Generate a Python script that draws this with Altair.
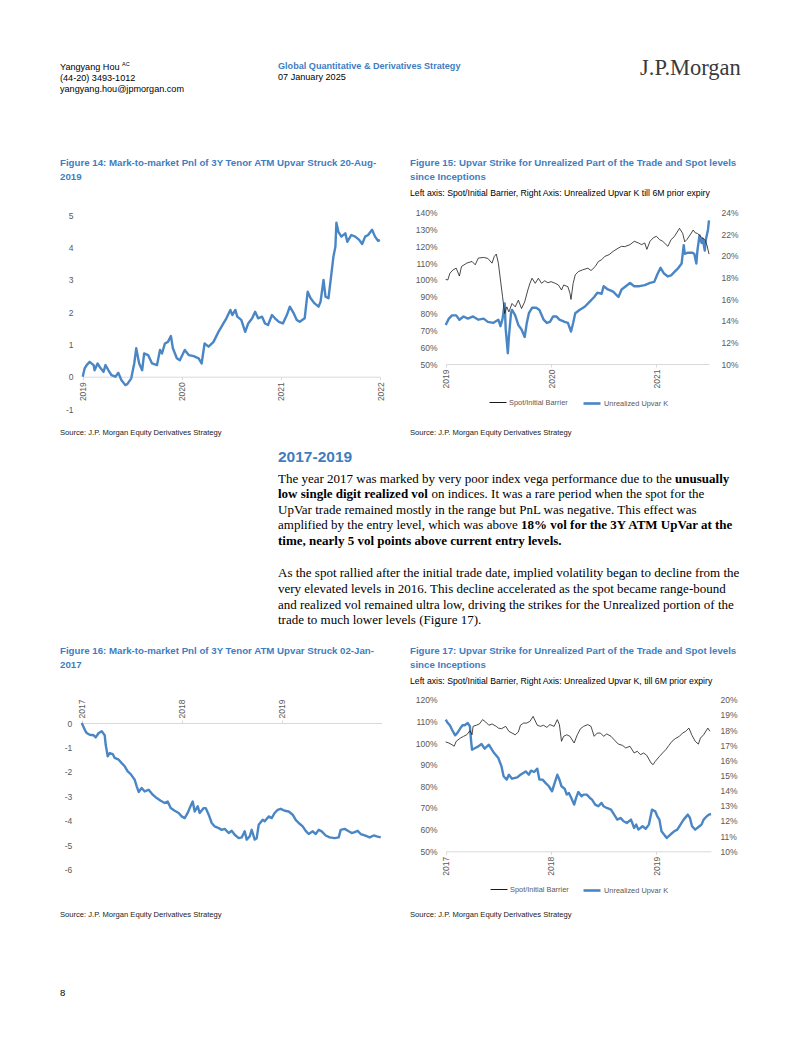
import altair as alt
import pandas as pd

# ---------------- data ----------------
f14_year = [2019.00, 2019.02, 2019.04, 2019.07, 2019.11, 2019.12, 2019.15, 2019.17, 2019.21, 2019.23,
            2019.26, 2019.29, 2019.33, 2019.36, 2019.39, 2019.43, 2019.45, 2019.49, 2019.52, 2019.54,
            2019.57, 2019.60, 2019.62, 2019.66, 2019.70, 2019.75, 2019.78, 2019.80, 2019.83, 2019.86,
            2019.89, 2019.91, 2019.95, 2019.98, 2020.03, 2020.07, 2020.12, 2020.17, 2020.20, 2020.23,
            2020.27, 2020.32, 2020.37, 2020.42, 2020.45, 2020.49, 2020.51, 2020.54, 2020.56, 2020.60,
            2020.64, 2020.67, 2020.71, 2020.74, 2020.77, 2020.81, 2020.84, 2020.87, 2020.91, 2020.94,
            2020.98, 2021.02, 2021.06, 2021.09, 2021.13, 2021.16, 2021.19, 2021.24, 2021.27, 2021.30,
            2021.34, 2021.38, 2021.40, 2021.43, 2021.45, 2021.48, 2021.51, 2021.53, 2021.55, 2021.56,
            2021.58, 2021.61, 2021.65, 2021.67, 2021.71, 2021.75, 2021.79, 2021.82, 2021.85, 2021.88,
            2021.92, 2021.95, 2021.98, 2022.00]
f14_pnl = [0.00, 0.26, 0.36, 0.46, 0.36, 0.20, 0.41, 0.31, 0.15, 0.36,
           0.20, 0.05, 0.00, 0.12, -0.10, -0.26, -0.23, -0.05, 0.41, 0.88,
           0.41, 0.20, 0.72, 0.67, 0.41, 0.36, 0.83, 0.72, 1.03, 1.08,
           1.26, 0.88, 0.57, 0.51, 0.83, 0.67, 0.64, 0.57, 0.41, 1.03,
           0.93, 1.08, 1.39, 1.65, 1.81, 2.07, 1.91, 2.07, 1.86, 1.76,
           1.39, 1.65, 1.81, 2.01, 1.81, 1.86, 1.65, 1.60, 1.91, 1.81,
           1.70, 1.65, 1.91, 2.17, 1.96, 1.76, 1.70, 1.81, 2.63, 2.43,
           2.27, 2.17, 2.32, 3.00, 2.48, 2.43, 3.20, 3.72, 4.03, 4.77,
           4.49, 4.34, 4.44, 4.18, 4.39, 4.34, 4.24, 4.11, 4.34, 4.39,
           4.55, 4.34, 4.21, 4.23]

f15_spot_year = [2019.00, 2019.02, 2019.04, 2019.07, 2019.10, 2019.13, 2019.15, 2019.20, 2019.25, 2019.28,
                 2019.31, 2019.36, 2019.40, 2019.44, 2019.46, 2019.48, 2019.50, 2019.52, 2019.54, 2019.56,
                 2019.58, 2019.60, 2019.63, 2019.66, 2019.69, 2019.72, 2019.75, 2019.78, 2019.80, 2019.82,
                 2019.85, 2019.88, 2019.91, 2019.94, 2019.97, 2020.00, 2020.04, 2020.07, 2020.10, 2020.12,
                 2020.16, 2020.18, 2020.19, 2020.21, 2020.23, 2020.26, 2020.30, 2020.35, 2020.38, 2020.42,
                 2020.45, 2020.48, 2020.51, 2020.55, 2020.59, 2020.64, 2020.67, 2020.70, 2020.75, 2020.79,
                 2020.83, 2020.86, 2020.89, 2020.91, 2020.94, 2020.97, 2021.00, 2021.03, 2021.06, 2021.11,
                 2021.14, 2021.17, 2021.22, 2021.25, 2021.27, 2021.29, 2021.32, 2021.35, 2021.37, 2021.39,
                 2021.43, 2021.46, 2021.48, 2021.50]
f15_spot = [100.3, 100.0, 104.0, 106.0, 107.0, 102.3, 108.0, 110.0, 111.0, 109.0,
            113.0, 113.4, 112.8, 110.0, 113.8, 115.4, 110.0, 100.0, 90.0, 80.0,
            84.0, 81.0, 86.0, 84.0, 88.0, 83.0, 87.0, 94.0, 98.0, 101.0,
            98.0, 101.0, 98.0, 99.5, 98.3, 99.0, 98.0, 97.0, 94.0, 97.0,
            96.0, 92.0, 88.4, 98.0, 103.0, 105.0, 106.0, 107.0, 105.6, 108.0,
            111.0, 112.0, 114.0, 115.0, 117.0, 119.0, 120.0, 119.8, 121.0, 123.0,
            122.0, 121.0, 122.0, 118.2, 123.0, 125.0, 126.0, 124.0, 123.0, 120.0,
            124.0, 125.7, 130.7, 127.7, 122.7, 124.0, 126.7, 129.7, 128.0, 127.7,
            125.3, 124.0, 120.8, 115.4]
f15_k_year = [2019.00, 2019.03, 2019.06, 2019.10, 2019.13, 2019.17, 2019.21, 2019.26, 2019.31, 2019.36,
              2019.40, 2019.45, 2019.50, 2019.52, 2019.54, 2019.56, 2019.57, 2019.59, 2019.60, 2019.62,
              2019.63, 2019.66, 2019.69, 2019.72, 2019.75, 2019.77, 2019.79, 2019.82, 2019.86, 2019.89,
              2019.93, 2019.96, 2019.99, 2020.02, 2020.05, 2020.08, 2020.13, 2020.16, 2020.19, 2020.21,
              2020.23, 2020.27, 2020.32, 2020.37, 2020.41, 2020.44, 2020.48, 2020.50, 2020.54, 2020.59,
              2020.64, 2020.67, 2020.71, 2020.75, 2020.79, 2020.84, 2020.89, 2020.94, 2020.98, 2021.01,
              2021.04, 2021.07, 2021.11, 2021.14, 2021.17, 2021.21, 2021.24, 2021.26, 2021.27, 2021.30,
              2021.34, 2021.36, 2021.38, 2021.39, 2021.41, 2021.43, 2021.44, 2021.46, 2021.47, 2021.49,
              2021.50]
f15_k = [13.6, 14.2, 14.5, 14.5, 14.1, 14.4, 14.2, 14.4, 14.1, 14.2,
         13.9, 13.8, 14.1, 13.5, 14.2, 15.6, 13.2, 11.0, 12.5, 14.7,
         15.0, 14.5, 13.6, 13.2, 12.5, 13.8, 14.7, 15.2, 15.2, 15.0,
         14.1, 13.8, 13.9, 14.4, 14.4, 14.1, 13.9, 13.8, 13.0, 13.8,
         14.7, 15.0, 15.3, 15.8, 16.2, 16.6, 16.5, 17.2, 16.9, 16.7,
         16.2, 16.9, 17.2, 17.5, 17.2, 17.2, 17.3, 17.5, 17.6, 18.3,
         18.9, 18.4, 18.1, 18.2, 18.5, 18.9, 19.3, 21.0, 20.2, 20.3,
         20.3, 20.2, 19.3, 20.5, 21.9, 21.2, 21.6, 20.5, 21.5, 22.4,
         23.3]

f16_year = [2017.00, 2017.03, 2017.05, 2017.08, 2017.12, 2017.14, 2017.17, 2017.20, 2017.23, 2017.24,
            2017.26, 2017.28, 2017.31, 2017.33, 2017.37, 2017.40, 2017.43, 2017.46, 2017.49, 2017.53,
            2017.55, 2017.57, 2017.60, 2017.63, 2017.67, 2017.71, 2017.75, 2017.79, 2017.83, 2017.86,
            2017.89, 2017.93, 2017.97, 2018.00, 2018.03, 2018.06, 2018.08, 2018.11, 2018.13, 2018.16,
            2018.18, 2018.22, 2018.24, 2018.27, 2018.30, 2018.33, 2018.37, 2018.40, 2018.43, 2018.47,
            2018.50, 2018.53, 2018.57, 2018.60, 2018.63, 2018.65, 2018.68, 2018.70, 2018.73, 2018.75,
            2018.77, 2018.81, 2018.83, 2018.87, 2018.90, 2018.93, 2018.96, 2018.99, 2019.03, 2019.07,
            2019.11, 2019.14, 2019.17, 2019.21, 2019.24, 2019.27, 2019.31, 2019.34, 2019.37, 2019.40,
            2019.44, 2019.48, 2019.53, 2019.57, 2019.59, 2019.63, 2019.67, 2019.70, 2019.73, 2019.76,
            2019.79, 2019.83, 2019.88, 2019.92, 2019.95, 2019.99]
f16_pnl = [0.00, -0.27, -0.41, -0.48, -0.50, -0.59, -0.41, -0.34, -0.50, -0.89,
           -1.36, -1.23, -1.27, -1.43, -1.50, -1.64, -1.77, -1.98, -2.09, -2.32,
           -2.59, -2.82, -2.66, -2.80, -2.73, -2.93, -3.07, -3.18, -3.27, -3.21,
           -3.48, -3.59, -3.68, -3.82, -3.89, -3.68, -3.48, -3.21, -3.62, -3.41,
           -3.68, -3.48, -3.48, -3.75, -4.09, -4.23, -4.30, -4.37, -4.33, -4.50,
           -4.41, -4.57, -4.71, -4.68, -4.43, -4.77, -4.64, -4.37, -4.77, -4.71,
           -4.16, -3.96, -4.02, -3.82, -3.89, -3.68, -3.55, -3.51, -3.59, -3.62,
           -3.75, -3.96, -4.09, -4.23, -4.41, -4.54, -4.43, -4.54, -4.37, -4.43,
           -4.60, -4.68, -4.71, -4.68, -4.37, -4.33, -4.43, -4.50, -4.46, -4.41,
           -4.54, -4.60, -4.68, -4.60, -4.64, -4.68]

f17_spot_year = [2017.00, 2017.03, 2017.06, 2017.08, 2017.10, 2017.14, 2017.17, 2017.20, 2017.23, 2017.25,
                 2017.26, 2017.29, 2017.32, 2017.35, 2017.38, 2017.41, 2017.44, 2017.48, 2017.50, 2017.53,
                 2017.57, 2017.60, 2017.63, 2017.66, 2017.69, 2017.71, 2017.74, 2017.77, 2017.80, 2017.83,
                 2017.87, 2017.90, 2017.93, 2017.96, 2017.99, 2018.03, 2018.06, 2018.08, 2018.10, 2018.12,
                 2018.15, 2018.18, 2018.22, 2018.25, 2018.28, 2018.31, 2018.35, 2018.38, 2018.41, 2018.44,
                 2018.47, 2018.50, 2018.53, 2018.57, 2018.60, 2018.64, 2018.68, 2018.71, 2018.75, 2018.79,
                 2018.82, 2018.85, 2018.88, 2018.91, 2018.95, 2018.97, 2018.99, 2019.03, 2019.06, 2019.09,
                 2019.12, 2019.15, 2019.18, 2019.22, 2019.25, 2019.28, 2019.31, 2019.34, 2019.37, 2019.40,
                 2019.42, 2019.45, 2019.49, 2019.51]
f17_spot = [100.5, 100.0, 99.2, 98.5, 100.8, 102.3, 103.1, 103.8, 105.7, 103.8,
            107.7, 108.2, 108.8, 110.8, 109.7, 108.2, 108.8, 107.7, 106.9, 106.6,
            107.7, 105.4, 104.6, 103.8, 105.1, 108.2, 109.2, 109.2, 110.0, 112.3,
            108.2, 107.7, 108.2, 107.2, 108.5, 107.7, 110.8, 108.5, 100.8, 103.1,
            103.8, 103.1, 100.0, 103.8, 106.6, 107.7, 108.5, 107.7, 103.1, 104.6,
            104.6, 103.1, 104.2, 103.1, 101.5, 99.5, 98.9, 97.7, 98.5, 95.4,
            96.2, 94.6, 95.4, 94.3, 90.8, 90.0, 91.5, 93.8, 95.4, 96.9,
            98.9, 100.8, 102.0, 103.1, 104.6, 105.4, 106.9, 103.5, 100.8, 99.5,
            102.3, 103.8, 106.9, 105.4]
f17_k_year = [2017.00, 2017.02, 2017.04, 2017.06, 2017.09, 2017.11, 2017.14, 2017.16, 2017.18, 2017.21,
              2017.23, 2017.24, 2017.25, 2017.28, 2017.31, 2017.34, 2017.37, 2017.41, 2017.43, 2017.46,
              2017.50, 2017.53, 2017.55, 2017.58, 2017.60, 2017.63, 2017.68, 2017.71, 2017.76, 2017.79,
              2017.81, 2017.84, 2017.87, 2017.89, 2017.92, 2017.95, 2017.98, 2018.01, 2018.03, 2018.06,
              2018.08, 2018.10, 2018.13, 2018.15, 2018.17, 2018.19, 2018.22, 2018.24, 2018.26, 2018.29,
              2018.31, 2018.34, 2018.37, 2018.39, 2018.42, 2018.45, 2018.48, 2018.50, 2018.53, 2018.57,
              2018.60, 2018.63, 2018.66, 2018.69, 2018.72, 2018.76, 2018.79, 2018.81, 2018.83, 2018.87,
              2018.90, 2018.93, 2018.96, 2018.99, 2019.01, 2019.03, 2019.05, 2019.08, 2019.10, 2019.14,
              2019.17, 2019.20, 2019.23, 2019.26, 2019.30, 2019.32, 2019.34, 2019.37, 2019.41, 2019.43,
              2019.45, 2019.48, 2019.50, 2019.52]
f17_k = [18.68, 18.46, 18.31, 18.02, 17.65, 17.80, 18.13, 18.31, 18.31, 18.46,
         18.24, 17.36, 16.70, 16.81, 16.92, 17.08, 16.77, 17.03, 16.81, 16.48,
         16.15, 15.60, 14.95, 14.73, 15.05, 14.79, 14.88, 15.05, 15.27, 15.05,
         15.32, 15.23, 15.45, 14.73, 14.73, 14.50, 14.29, 13.96, 14.40, 15.05,
         14.73, 14.29, 14.13, 13.74, 13.85, 13.56, 13.08, 13.56, 13.91, 13.63,
         13.74, 13.74, 13.52, 13.41, 13.08, 12.97, 13.19, 12.97, 12.86, 12.75,
         12.42, 12.09, 12.20, 11.98, 11.87, 12.09, 11.54, 11.76, 11.43, 11.65,
         11.49, 11.76, 12.75, 12.64, 12.31, 12.09, 11.32, 11.05, 10.88, 11.14,
         11.32, 11.43, 11.76, 12.09, 12.42, 12.20, 11.65, 11.43, 11.65, 11.76,
         12.09, 12.31, 12.42, 12.46]

series_names = ["Spot/Initial Barrier", "Unrealized Upvar K"]
f14_xticks = [2019, 2020, 2021, 2022]
f14_yticks = [-1, 0, 1, 2, 3, 4, 5]
f15_xticks = [2019, 2020, 2021]
f15_left_ticks = [50, 60, 70, 80, 90, 100, 110, 120, 130, 140]
f15_right_ticks = [10, 12, 14, 16, 18, 20, 22, 24]
f16_xticks = [2017, 2018, 2019]
f16_yticks = [-6, -5, -4, -3, -2, -1, 0]
f17_xticks = [2017, 2018, 2019]
f17_left_ticks = [50, 60, 70, 80, 90, 100, 110, 120]
f17_right_ticks = [10, 11, 12, 13, 14, 15, 16, 17, 18, 19, 20]

# ---------------- styles ----------------
W, H = 802, 1037
SANS = "'Liberation Sans', Arial, sans-serif"
SERIF = "'Liberation Serif', 'Times New Roman', serif"
BLUE = "#4a86c5"
TBLUE = "#3f7dbf"
GRAY = "#595959"
AXC = "#d9d9d9"
AXF = 8.5      # axis label size
ONE = pd.DataFrame({"k": [0]})

TR = dict(zip(" abcdefghijklmnopqrstuvwxyz",
              [250, 444, 500, 444, 500, 444, 333, 500, 500, 278, 278, 500, 278, 778, 500, 500, 500, 500, 333,
               389, 278, 500, 500, 722, 500, 500, 444]))
TR.update(zip("ABCDEFGHIJKLMNOPQRSTUVWXYZ",
              [722, 667, 667, 722, 611, 556, 722, 722, 333, 389, 722, 611, 889, 722, 722, 556, 722, 667, 556,
               611, 722, 722, 944, 722, 722, 611]))
TR.update({".": 250, ",": 250, "-": 333, "%": 833, "(": 333, ")": 333})
TB = dict(zip(" abcdefghijklmnopqrstuvwxyz",
              [250, 500, 556, 444, 556, 444, 333, 500, 556, 278, 333, 556, 278, 833, 556, 500, 556, 556, 444,
               389, 333, 556, 500, 722, 500, 500, 444]))
TB.update(zip("ABCDEFGHIJKLMNOPQRSTUVWXYZ",
              [722, 667, 722, 722, 667, 611, 778, 778, 389, 500, 778, 667, 944, 722, 778, 611, 778, 722, 556,
               667, 722, 722, 1000, 722, 722, 667]))
TB.update({".": 250, ",": 250, "-": 333, "%": 1000, "(": 333, ")": 333})


def tw(s, bold, size):
    t = TB if bold else TR
    return sum(t.get(c, 500) for c in s) * size / 1000.0


def label(s, x, y, size, color="#000000", weight="normal", font=SANS, align="left"):
    return alt.Chart(ONE).mark_text(
        x=x, y=y, fontSize=size, color=color, fontWeight=weight, font=font,
        align=align, baseline="middle"
    ).encode(text=alt.value(s))


def rich(segments, x0, y, size=13):
    out = []
    x = x0
    for s, bold in segments:
        out.append(label(s.strip(), x, y, size, weight="bold" if bold else "normal", font=SERIF))
        x += tw(s, bold, size)
    return out


def x_axis(y_pos, ticks, orient="bottom"):
    off = -(H - y_pos) if orient == "bottom" else -y_pos
    return alt.Axis(orient=orient, offset=off, values=ticks, labelExpr="'' + datum.value",
                    labelAngle=270, labelFont=SANS, labelFontSize=AXF, labelColor=GRAY,
                    labelPadding=2, labelFlush=False, labelOverlap=False,
                    domainColor=AXC, domainWidth=1, tickColor=AXC, tickSize=3,
                    grid=False, title=None)


def y_axis(x_pos, ticks, orient, pad, pct=False):
    off = -x_pos if orient == "left" else -(W - x_pos)
    expr = "'' + datum.value" + (" + '%'" if pct else "")
    return alt.Axis(orient=orient, offset=off, values=ticks, labelExpr=expr,
                    labelFont=SANS, labelFontSize=AXF, labelColor=GRAY, labelPadding=pad,
                    domain=False, ticks=False, tickSize=0, grid=False, title=None)


def leg(x, yc, sw):
    return alt.Legend(orient="none", legendX=x, legendY=yc - 8.5, title=None,
                      symbolType="stroke", symbolSize=289, symbolStrokeWidth=sw,
                      labelFont=SANS, labelFontSize=7.4, labelColor=GRAY, labelOffset=2, padding=0)


def sc(dom, rng):
    return alt.Scale(domain=dom, range=rng, nice=False, zero=False)


# ---------------- figure 14 ----------------
d14 = pd.DataFrame({"year": f14_year, "v": f14_pnl})
c14 = alt.Chart(d14).mark_line(color=BLUE, strokeWidth=2.4, strokeJoin="round").encode(
    x=alt.X("year:Q", scale=sc([2019, 2022], [82.7, 380]), axis=x_axis(376.7, f14_xticks)),
    y=alt.Y("v:Q", scale=sc([-1, 5], [409.0, 215.3]), axis=y_axis(82.7, f14_yticks, "left", 9.7)),
)

# ---------------- figure 15 ----------------
X15 = sc([2019, 2021.5], [445.7, 709])
d15k = pd.DataFrame({"year": f15_k_year, "v": f15_k, "s": series_names[1]})
d15s = pd.DataFrame({"year": f15_spot_year, "v": f15_spot, "s": series_names[0]})
c15k = alt.Chart(d15k).mark_line(strokeWidth=2.4, strokeJoin="round").encode(
    x=alt.X("year:Q", scale=X15, axis=None),
    y=alt.Y("v:Q", scale=sc([10, 24], [364, 212.7]), axis=y_axis(709, f15_right_ticks, "right", 12, True)),
    color=alt.Color("s:N", scale=alt.Scale(domain=[series_names[1]], range=[BLUE]), legend=leg(582, 402, 2.6)),
)
c15s = alt.Chart(d15s).mark_line(strokeWidth=0.8).encode(
    x=alt.X("year:Q", scale=X15, axis=x_axis(364, f15_xticks)),
    y=alt.Y("v:Q", scale=sc([50, 140], [364, 212.7]), axis=y_axis(445.7, f15_left_ticks, "left", 8.7, True)),
    color=alt.Color("s:N", scale=alt.Scale(domain=[series_names[0]], range=["#1a1a1a"]), legend=leg(489, 402, 1)),
)

# ---------------- figure 16 ----------------
d16 = pd.DataFrame({"year": f16_year, "v": f16_pnl})
c16 = alt.Chart(d16).mark_line(color=BLUE, strokeWidth=2.4, strokeJoin="round").encode(
    x=alt.X("year:Q", scale=sc([2017, 2020], [81.7, 381.7]), axis=x_axis(723, f16_xticks, "top")),
    y=alt.Y("v:Q", scale=sc([-6, 0], [869.7, 723]), axis=y_axis(81.7, f16_yticks, "left", 10)),
)

# ---------------- figure 17 ----------------
X17 = sc([2017, 2019.52], [445.7, 711])
d17k = pd.DataFrame({"year": f17_k_year, "v": f17_k, "s": series_names[1]})
d17s = pd.DataFrame({"year": f17_spot_year, "v": f17_spot, "s": series_names[0]})
c17k = alt.Chart(d17k).mark_line(strokeWidth=2.4, strokeJoin="round").encode(
    x=alt.X("year:Q", scale=X17, axis=None),
    y=alt.Y("v:Q", scale=sc([10, 20], [851.3, 699.7]), axis=y_axis(711, f17_right_ticks, "right", 9, True)),
    color=alt.Color("s:N", scale=alt.Scale(domain=[series_names[1]], range=[BLUE]), legend=leg(582, 889, 2.6)),
)
c17s = alt.Chart(d17s).mark_line(strokeWidth=0.8).encode(
    x=alt.X("year:Q", scale=X17, axis=x_axis(851.3, f17_xticks)),
    y=alt.Y("v:Q", scale=sc([50, 120], [851.3, 699.7]), axis=y_axis(445.7, f17_left_ticks, "left", 8.7, True)),
    color=alt.Color("s:N", scale=alt.Scale(domain=[series_names[0]], range=["#1a1a1a"]), legend=leg(490, 889, 1)),
)

# ---------------- page text ----------------
HF = 9.1     # header size
TF = 9.7     # figure title size
SF = 7.6     # source size
SUBF = 8.7   # subtitle size
texts = [
    label("Yangyang Hou", 60, 67, HF),
    label("AC", 122, 63.5, 5.5),
    label("(44-20) 3493-1012", 60, 78, HF),
    label("yangyang.hou@jpmorgan.com", 60, 89, HF),
    label("Global Quantitative & Derivatives Strategy", 278, 66, HF, TBLUE, "bold"),
    label("07 January 2025", 278, 77, HF),
    label("J.P.Morgan", 640, 68, 22.5, "#3a3a3a", font=SERIF),
    label("Figure 14: Mark-to-market Pnl of 3Y Tenor ATM Upvar Struck 20-Aug-", 60, 163, TF, TBLUE, "bold"),
    label("2019", 60, 177, TF, TBLUE, "bold"),
    label("Figure 15: Upvar Strike for Unrealized Part of the Trade and Spot levels", 410, 163, TF, TBLUE, "bold"),
    label("since Inceptions", 410, 177, TF, TBLUE, "bold"),
    label("Left axis: Spot/Initial Barrier, Right Axis: Unrealized Upvar K till 6M prior expiry", 410, 193, SUBF),
    label("Source: J.P. Morgan Equity Derivatives Strategy", 60, 432.5, SF, "#222222"),
    label("Source: J.P. Morgan Equity Derivatives Strategy", 410, 432.5, SF, "#222222"),
    label("2017-2019", 278, 457, 15.5, TBLUE, "bold"),
    label("Figure 16: Mark-to-market Pnl of 3Y Tenor ATM Upvar Struck 02-Jan-", 60, 650.5, TF, TBLUE, "bold"),
    label("2017", 60, 664.5, TF, TBLUE, "bold"),
    label("Figure 17: Upvar Strike for Unrealized Part of the Trade and Spot levels", 410, 650.5, TF, TBLUE, "bold"),
    label("since Inceptions", 410, 664.5, TF, TBLUE, "bold"),
    label("Left axis: Spot/Initial Barrier, Right Axis: Unrealized Upvar K, till 6M prior expiry", 410, 681, SUBF),
    label("Source: J.P. Morgan Equity Derivatives Strategy", 60, 914.5, SF, "#222222"),
    label("Source: J.P. Morgan Equity Derivatives Strategy", 410, 914.5, SF, "#222222"),
    label("8", 60, 993, 9.5),
]

para = [
    [("The year 2017 was marked by very poor index vega performance due to the ", False), ("unusually", True)],
    [("low single digit realized vol ", True), ("on indices. It was a rare period when the spot for the", False)],
    [("UpVar trade remained mostly in the range but PnL was negative. This effect was", False)],
    [("amplified by the entry level, which was above ", False), ("18% vol for the 3Y ATM UpVar at the", True)],
    [("time, nearly 5 vol points above current entry levels.", True)],
]
para2 = [
    [("As the spot rallied after the initial trade date, implied volatility began to decline from the", False)],
    [("very elevated levels in 2016. This decline accelerated as the spot became range-bound", False)],
    [("and realized vol remained ultra low, driving the strikes for the Unrealized portion of the", False)],
    [("trade to much lower levels (Figure 17).", False)],
]
for i, segs in enumerate(para):
    texts += rich(segs, 278, 478.5 + 15.6 * i)
for i, segs in enumerate(para2):
    texts += rich(segs, 278, 573.3 + 15.6 * i)

chart = alt.layer(
    *texts, c14, c15k, c15s, c16, c17k, c17s
).resolve_scale(
    x="independent", y="independent", color="independent"
).properties(
    width=W, height=H, autosize=alt.AutoSizeParams(type="none"), padding=0, background="white"
).configure_view(stroke=None)

chart.save("out.html", embed_options={"renderer": "svg", "actions": False})
